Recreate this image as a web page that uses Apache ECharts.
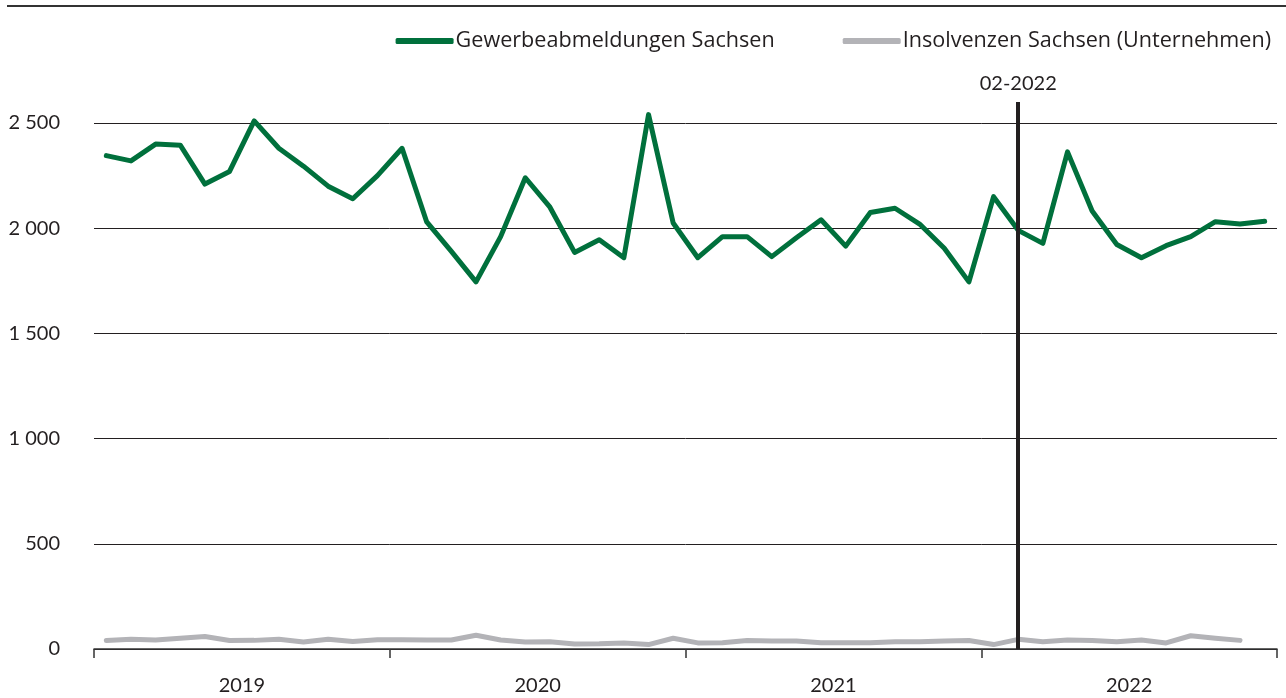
<!DOCTYPE html>
<html>
<head>
<meta charset="utf-8">
<script src="https://cdn.jsdelivr.net/npm/echarts@6/dist/echarts.min.js"></script>
<style>
html,body{margin:0;padding:0;background:#fff;}
#chart{width:1286px;height:698px;}
</style>
</head>
<body>
<div id="chart"></div>
<script>
const months = [];
for (let y = 2019; y <= 2022; y++) {
  for (let m = 1; m <= 12; m++) {
    months.push((m < 10 ? '0' + m : '' + m) + '-' + y);
  }
}
const years = ['2019', '2020', '2021', '2022'];
const gewerbeabmeldungen = [
  2345, 2320, 2400, 2395, 2210, 2270, 2510, 2380, 2295, 2200, 2140, 2250,
  2380, 2030, 1890, 1745, 1960, 2240, 2100, 1885, 1945, 1860, 2540, 2025,
  1860, 1960, 1960, 1865, 1955, 2040, 1915, 2075, 2095, 2020, 1905, 1745,
  2150, 1990, 1928, 2363, 2082, 1923, 1860, 1917, 1960, 2031, 2020, 2033
];
const insolvenzen = [
  40, 46, 43, 51, 59, 40, 41, 46, 33, 46, 36, 44,
  44, 43, 43, 65, 43, 33, 35, 24, 25, 29, 21, 51,
  29, 30, 40, 38, 38, 30, 30, 30, 35, 35, 38, 40,
  21, 46, 35, 43, 40, 35, 43, 29, 63, 51, 41
];
const markerMonth = '02-2022';
const yTicks = [0, 500, 1000, 1500, 2000, 2500];

const FONT = 'Lato';
const chart = echarts.init(document.getElementById('chart'));
chart.setOption({
  animation: false,
  textStyle: { fontFamily: FONT },
  graphic: [{
    type: 'line',
    shape: { x1: 7, y1: 6, x2: 1286, y2: 6 },
    style: { stroke: '#333', lineWidth: 2 }
  }],
  legend: {
    right: 10,
    top: 25,
    itemWidth: 58,
    itemHeight: 6,
    itemGap: 68,
    icon: 'roundRect',
    textStyle: { fontSize: 21.6, color: '#231f20', fontFamily: 'Open Sans', padding: [0, 0, 0, -3] },
    data: ['Gewerbeabmeldungen Sachsen', 'Insolvenzen Sachsen (Unternehmen)']
  },
  grid: { left: 94, right: 9, top: 102, bottom: 49 },
  xAxis: [{
    type: 'category',
    data: months,
    boundaryGap: true,
    show: false
  }, {
    type: 'category',
    data: years,
    position: 'bottom',
    boundaryGap: true,
    axisLine: { show: true, lineStyle: { color: '#333', width: 1.5 } },
    axisTick: { show: true, length: 9, alignWithLabel: false, lineStyle: { color: '#333', width: 1.5 } },
    axisLabel: { fontSize: 20, color: '#231f20', margin: 27, fontFamily: FONT },
    splitLine: { show: false }
  }],
  yAxis: {
    type: 'value',
    min: 0,
    max: 2600,
    interval: 500,
    axisLine: { show: false },
    axisTick: { show: false },
    axisLabel: {
      fontSize: 20, color: '#231f20', margin: 34, fontFamily: FONT,
      showMaxLabel: false,
      formatter: v => yTicks.indexOf(v) >= 0 ? String(v).replace(/\B(?=(\d{3})+(?!\d))/g, ' ') : ''
    },
    splitLine: { show: true, showMaxLine: false, lineStyle: { color: '#231f20', width: 1 } }
  },
  series: [{
    name: 'Gewerbeabmeldungen Sachsen',
    type: 'line',
    xAxisIndex: 0,
    data: gewerbeabmeldungen,
    symbol: 'none',
    color: '#00703c',
    lineStyle: { width: 5, color: '#00703c', cap: 'round', join: 'round' }
  }, {
    name: 'Insolvenzen Sachsen (Unternehmen)',
    type: 'line',
    xAxisIndex: 0,
    data: insolvenzen,
    symbol: 'none',
    color: '#b3b3b7',
    lineStyle: { width: 5, color: '#b3b3b7', cap: 'round', join: 'round' },
    markLine: {
      silent: true,
      symbol: 'none',
      lineStyle: { color: '#231f20', width: 4, type: 'solid' },
      label: { show: true, position: 'end', formatter: markerMonth, fontSize: 20, color: '#231f20', fontFamily: FONT, distance: 8 },
      data: [{ xAxis: markerMonth }]
    }
  }]
});
</script>
</body>
</html>
